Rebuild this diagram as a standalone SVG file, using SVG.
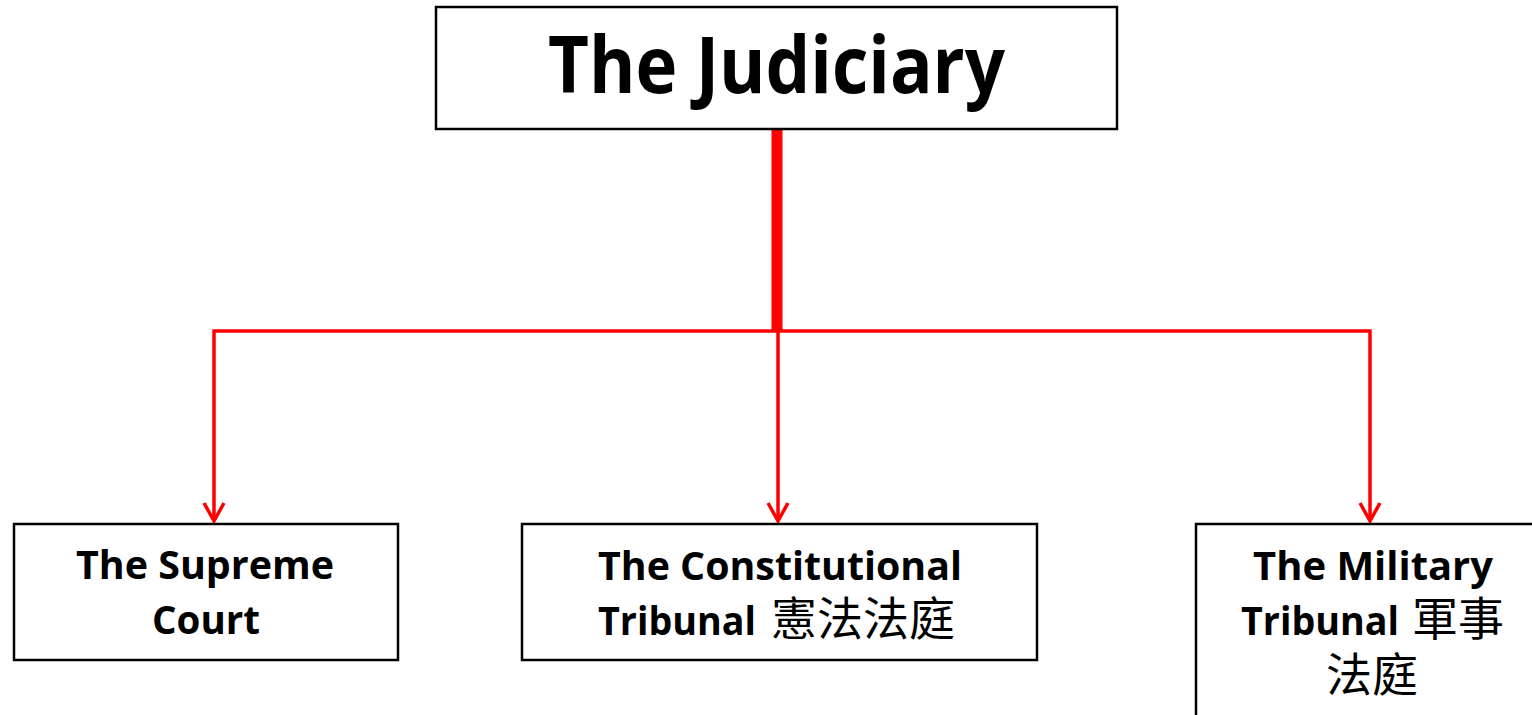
<svg xmlns="http://www.w3.org/2000/svg" width="1532" height="715" viewBox="0 0 1532 715">
<style>
.box{fill:#fff;stroke:#000;stroke-width:2.5}
.en{font-family:"Open Sans","Noto Sans",sans-serif;font-weight:bold;fill:#000}
.cjk{font-family:"Noto Sans CJK TC","Noto Sans CJK SC",sans-serif;font-weight:normal;fill:#000}
.ln{fill:none;stroke:#FF0000;stroke-width:3.5}
</style>
<defs>
<marker id="arr" markerUnits="userSpaceOnUse" markerWidth="30" markerHeight="30" viewBox="-25 -15 30 30" refX="0" refY="0" orient="auto-start-reverse">
<path d="M-18,-10 L0,0 L-18,10" fill="none" stroke="#FF0000" stroke-width="3.5"/>
</marker>
</defs>
<rect width="1532" height="715" fill="#fff"/>
<g id="connectors">
<line x1="777" y1="129" x2="777" y2="331" stroke="#FF0000" stroke-width="11"/>
<polyline class="ln" points="214,521 214,331 1370,331 1370,521" marker-start="url(#arr)" marker-end="url(#arr)"/>
<line class="ln" x1="778" y1="331" x2="778" y2="521" marker-end="url(#arr)"/>
</g>
<g id="judiciary">
<rect class="box" x="436" y="7" width="681" height="122"/>
<text class="en" x="548" y="93" font-size="78" textLength="457" lengthAdjust="spacingAndGlyphs">The Judiciary</text>
</g>
<g id="supreme">
<rect class="box" x="14" y="524" width="384" height="136"/>
<text class="en" x="76" y="579" font-size="40" textLength="258" lengthAdjust="spacingAndGlyphs">The Supreme</text>
<text class="en" x="152" y="634" font-size="40" textLength="108" lengthAdjust="spacingAndGlyphs">Court</text>
</g>
<g id="constitutional">
<rect class="box" x="522" y="524" width="515" height="136"/>
<text class="en" x="598" y="580" font-size="40" textLength="364" lengthAdjust="spacingAndGlyphs">The Constitutional</text>
<text x="598" y="635"><tspan class="en" font-size="40" textLength="158" lengthAdjust="spacingAndGlyphs">Tribunal</tspan><tspan class="cjk" x="771" font-size="46">憲法法庭</tspan></text>
</g>
<g id="military">
<rect class="box" x="1196" y="524" width="345" height="200"/>
<text class="en" x="1253" y="580" font-size="40" textLength="240" lengthAdjust="spacingAndGlyphs">The Military</text>
<text x="1241" y="635"><tspan class="en" font-size="40" textLength="158" lengthAdjust="spacingAndGlyphs">Tribunal</tspan><tspan class="cjk" x="1412" font-size="46">軍事</tspan></text>
<text class="cjk" x="1326" y="691" font-size="46">法庭</text>
</g>
</svg>
